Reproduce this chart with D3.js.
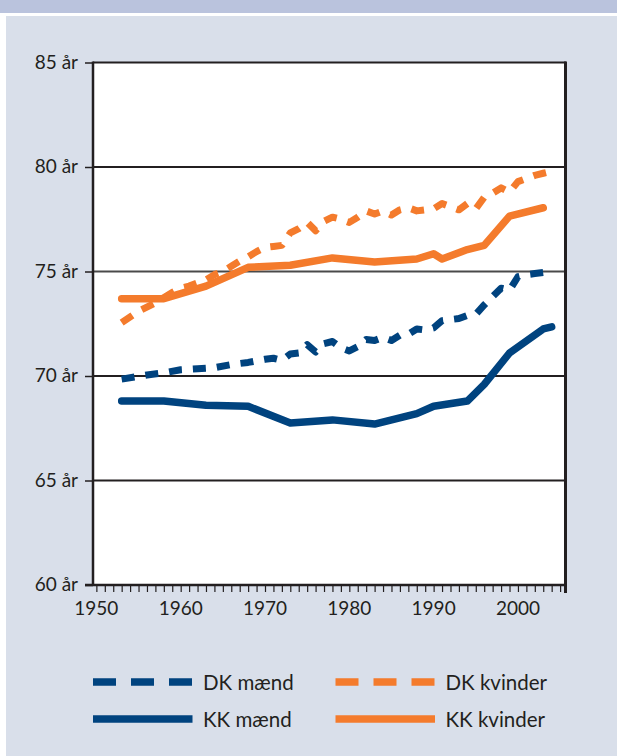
<!DOCTYPE html>
<html>
<head>
<meta charset="utf-8">
<script src="https://cdn.jsdelivr.net/npm/d3@7"></script>
<style>
html,body{margin:0;padding:0;background:#fff;}
svg{display:block;}
text{font-family:Lato,"Open Sans",sans-serif;fill:#231f20;}
</style>
</head>
<body>
<div id="chart"></div>
<script>
// ---- data ----
const dkMaendYears = [1953,1956,1958,1960,1962,1964,1966,1968,1970,1971,1972,1973,1974,1975,1976,1977,1978,1979,1980,1981,1982,1983,1984,1985,1986,1987,1988,1989,1990,1991,1992,1993,1994,1995,1996,1997,1998,1999,2000,2001,2002,2003,2004];
const dkMaend      = [69.85,70.05,70.15,70.3,70.35,70.4,70.55,70.65,70.8,70.85,70.75,71.05,71.1,71.5,71.15,71.55,71.65,71.35,71.2,71.4,71.75,71.7,71.85,71.7,71.95,72.0,72.25,72.2,72.3,72.65,72.7,72.75,72.9,72.95,73.4,73.8,74.2,74.1,74.75,74.85,74.9,74.95,75.05];

const dkKvinderYears = [1953,1955,1957,1959,1960,1961,1963,1964,1965,1966,1967,1968,1969,1970,1971,1972,1973,1974,1975,1976,1977,1978,1979,1980,1981,1982,1983,1984,1985,1986,1987,1988,1989,1990,1991,1992,1993,1994,1995,1996,1997,1998,1999,2000,2001,2002,2003,2004];
const dkKvinder      = [72.55,73.1,73.5,74.0,74.2,74.3,74.6,74.85,75.0,75.25,75.5,75.7,75.95,76.15,76.2,76.25,76.85,77.05,77.35,76.95,77.4,77.6,77.5,77.35,77.6,77.9,77.75,77.9,77.7,77.95,78.05,77.9,77.95,78.0,78.25,78.1,77.95,78.25,78.0,78.55,78.75,79.0,78.8,79.3,79.45,79.6,79.7,79.8];

const kkMaendYears = [1953,1958,1963,1968,1973,1978,1983,1988,1990,1994,1996,1999,2003,2004];
const kkMaend      = [68.8,68.8,68.6,68.55,67.75,67.9,67.7,68.2,68.55,68.8,69.6,71.1,72.25,72.35];

const kkKvinderYears = [1953,1958,1963,1968,1973,1978,1983,1988,1990,1991,1994,1996,1999,2003];
const kkKvinder      = [73.7,73.7,74.3,75.2,75.3,75.65,75.45,75.6,75.85,75.6,76.05,76.25,77.65,78.05];

const yTicks = [60,65,70,75,80,85];
const yTickLabels = ["60 år","65 år","70 år","75 år","80 år","85 år"];
const xLabelYears = [1950,1960,1970,1980,1990,2000];
const legendLabels = ["DK mænd","DK kvinder","KK mænd","KK kvinder"];

// ---- layout ----
const W = 617, H = 756;
const blue = "#00437f", orange = "#f47b2c", ink = "#231f20";

const svg = d3.select("#chart").append("svg").attr("width", W).attr("height", H);
svg.append("rect").attr("x",0).attr("y",0).attr("width",W).attr("height",H).attr("fill","#fff");
svg.append("rect").attr("x",0).attr("y",0).attr("width",W).attr("height",13).attr("fill","#bac3dd");
svg.append("rect").attr("x",6).attr("y",16).attr("width",W-6).attr("height",H-16).attr("fill","#d9dfea");

const x = d3.scaleLinear().domain([1949.6, 2005.7]).range([93, 566]);
const y = d3.scaleLinear().domain([60, 85]).range([585, 62.5]);

// plot area
svg.append("rect").attr("x",x.range()[0]).attr("y",y(85)).attr("width",x.range()[1]-x.range()[0]).attr("height",y(60)-y(85)).attr("fill","#fff");

// gridlines
svg.append("g").selectAll("line").data(yTicks.filter(v=>v>60)).join("line")
  .attr("x1",x.range()[0]).attr("x2",x.range()[1])
  .attr("y1",d=>y(d)).attr("y2",d=>y(d))
  .attr("stroke",d=> d===75 ? "#4a4a4a" : ink).attr("stroke-width",d=> d===75 ? 1.8 : 2.2);

// y axis
const yAxis = d3.axisLeft(y).tickValues(yTicks).tickFormat((d,i)=>yTickLabels[i]).tickSize(8).tickPadding(7);
const gy = svg.append("g").attr("transform",`translate(${x.range()[0]},0)`).call(yAxis);
gy.select(".domain").remove();
gy.selectAll(".tick line").attr("stroke",ink).attr("stroke-width",1.5);
gy.selectAll(".tick text").attr("font-size",19).attr("fill",ink).attr("dy","0.3em").style("font-family","Lato, sans-serif");

// x axis minor ticks
const years = d3.range(1950, 2006);
const xAxis = d3.axisBottom(x).tickValues(years).tickFormat("").tickSize(7);
const gx = svg.append("g").attr("transform",`translate(0,${y(60)})`).call(xAxis);
gx.select(".domain").remove();
gx.selectAll(".tick line").attr("stroke",ink).attr("stroke-width",1.2);

// x labels
svg.append("g").selectAll("text").data(xLabelYears).join("text")
  .attr("x",d=>x(d)).attr("y",615).attr("text-anchor","middle").attr("font-size",19).text(d=>d);

// axis lines & border
svg.append("line").attr("x1",85).attr("x2",x.range()[1]).attr("y1",y(60)).attr("y2",y(60)).attr("stroke",ink).attr("stroke-width",2.5);
svg.append("line").attr("x1",x.range()[0]).attr("x2",x.range()[0]).attr("y1",y(85)-1).attr("y2",y(60)+1).attr("stroke",ink).attr("stroke-width",2.5);
svg.append("line").attr("x1",x.range()[1]-0.5).attr("x2",x.range()[1]-0.5).attr("y1",y(85)-1).attr("y2",y(60)+8).attr("stroke",ink).attr("stroke-width",3);

// series
const line = d3.line().x(d=>x(d[0])).y(d=>y(d[1]));
const series = [
  {years: kkKvinderYears, vals: kkKvinder, color: orange, dash: null},
  {years: kkMaendYears, vals: kkMaend, color: blue, dash: null},
  {years: dkKvinderYears, vals: dkKvinder, color: orange, dash: "13,11"},
  {years: dkMaendYears, vals: dkMaend, color: blue, dash: "13,11"}
];
series.forEach(s=>{
  svg.append("path").datum(s.years.map((yr,i)=>[yr, s.vals[i]]))
    .attr("d", line).attr("fill","none").attr("stroke", s.color)
    .attr("stroke-width", s.dash ? 7 : 7.5)
    .attr("stroke-linecap", s.dash ? "butt" : "round")
    .attr("stroke-linejoin","round")
    .attr("stroke-dasharray", s.dash);
});

// legend
const legend = [
  {label: legendLabels[0], color: blue, dash: "23,15", lx: 93, ly: 682},
  {label: legendLabels[1], color: orange, dash: "23,15", lx: 335.5, ly: 682},
  {label: legendLabels[2], color: blue, dash: null, lx: 93, ly: 719},
  {label: legendLabels[3], color: orange, dash: null, lx: 335.5, ly: 719}
];
const lg = svg.append("g");
legend.forEach(l=>{
  lg.append("line").attr("x1",l.lx).attr("x2",l.lx+99.5).attr("y1",l.ly).attr("y2",l.ly)
    .attr("stroke",l.color).attr("stroke-width",7.5).attr("stroke-dasharray",l.dash);
  lg.append("text").attr("x",l.lx+110).attr("y",l.ly+7.5).attr("font-size",20.5).text(l.label);
});
</script>
</body>
</html>
